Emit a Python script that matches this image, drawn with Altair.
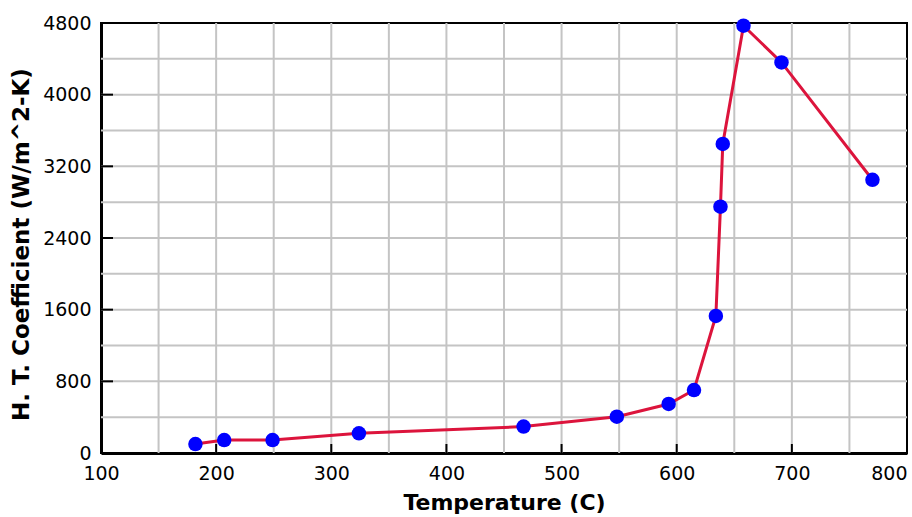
import altair as alt
import pandas as pd

# Data
temperature = [182, 207, 249, 324, 467, 548, 593, 615, 634, 638, 640, 658, 691, 770]
htc = [100, 145, 145, 220, 295, 405, 547, 703, 1530, 2750, 3450, 4770, 4360, 3050]

x_ticks = [100, 200, 300, 400, 500, 600, 700, 800]
y_ticks = [0, 800, 1600, 2400, 3200, 4000, 4800]
x_grid = [150, 200, 250, 300, 350, 400, 450, 500, 550, 600, 650, 700, 750]
y_grid = [400, 800, 1200, 1600, 2000, 2400, 2800, 3200, 3600, 4000, 4400]
x_inner_ticks = [200, 300, 400, 500, 600, 700]
y_inner_ticks = [800, 1600, 2400, 3200, 4000]

W, H = 806, 430
FONT = "DejaVu Sans"

df = pd.DataFrame({"T": temperature, "h": htc})
xscale = alt.Scale(domain=[100, 800], nice=False, zero=False)
yscale = alt.Scale(domain=[0, 4800], nice=False, zero=False)

xaxis = alt.Axis(values=x_ticks, format="d", grid=False, ticks=False, tickSize=0, labelPadding=11,
                 labelFont=FONT, labelFontSize=19, labelColor="black",
                 labelAlign={"condition": {"test": "datum.value == 800", "value": "right"}, "value": "center"},
                 domainColor="black", domainWidth=3,
                 title="Temperature (C)", titleFont=FONT, titleFontSize=22, titleFontWeight="bold",
                 titleColor="black", titleX=403, titleY=49, titleBaseline="middle", titleAlign="center")
yaxis = alt.Axis(values=y_ticks, format="d", grid=False, ticks=False, tickSize=0, labelPadding=10,
                 labelFont=FONT, labelFontSize=19, labelColor="black",
                 domainColor="black", domainWidth=3,
                 title="H. T. Coefficient (W/m^2-K)", titleFont=FONT, titleFontSize=23,
                 titleFontWeight="bold", titleColor="black", titleX=-80, titleY=221,
                 titleBaseline="middle", titleAlign="center")

line = alt.Chart(df).mark_line(color="#dc143c", strokeWidth=3).encode(
    x=alt.X("T:Q", scale=xscale, axis=xaxis),
    y=alt.Y("h:Q", scale=yscale, axis=yaxis),
    order="T:Q")
pts = alt.Chart(df).mark_point(filled=True, shape="circle", color="#0000ff", size=210, opacity=1).encode(
    x=alt.X("T:Q", scale=xscale, axis=xaxis), y=alt.Y("h:Q", scale=yscale, axis=yaxis))

xgrid = alt.Chart(pd.DataFrame({"g": x_grid})).mark_rule(color="#c4c4c4", strokeWidth=2).encode(
    x=alt.X("g:Q", scale=xscale, axis=xaxis), y=alt.value(0), y2=alt.value(H))
ygrid = alt.Chart(pd.DataFrame({"g": y_grid})).mark_rule(color="#c4c4c4", strokeWidth=2).encode(
    y=alt.Y("g:Q", scale=yscale, axis=yaxis), x=alt.value(0), x2=alt.value(W))
xt = alt.Chart(pd.DataFrame({"t": x_inner_ticks})).mark_rule(color="black", strokeWidth=2).encode(
    x=alt.X("t:Q", scale=xscale, axis=xaxis), y=alt.value(H - 9), y2=alt.value(H))
yt = alt.Chart(pd.DataFrame({"t": y_inner_ticks})).mark_rule(color="black", strokeWidth=2).encode(
    y=alt.Y("t:Q", scale=yscale, axis=yaxis), x=alt.value(0), x2=alt.value(12))

chart = alt.layer(xgrid, ygrid, xt, yt, line, pts).properties(
    width=W, height=H,
    autosize=alt.AutoSizeParams(type="none"),
    padding={"left": 101, "top": 23, "right": 5, "bottom": 64},
    background="white",
).configure_view(stroke="black", strokeWidth=2)

chart.save("out.html", embed_options={"renderer": "svg", "actions": False})
